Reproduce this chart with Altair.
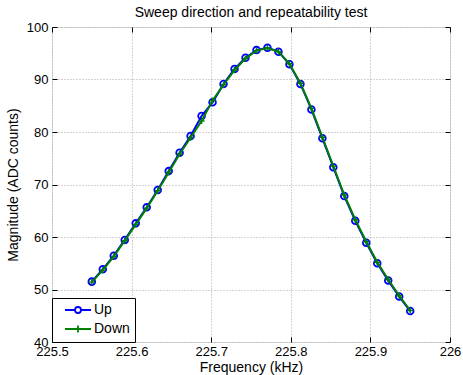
import altair as alt
import pandas as pd

# ---- data ----
freq = [225.5500, 225.5638, 225.5776, 225.5914, 225.6052, 225.6190, 225.6328,
        225.6466, 225.6603, 225.6741, 225.6879, 225.7017, 225.7155, 225.7293,
        225.7431, 225.7569, 225.7707, 225.7845, 225.7983, 225.8121, 225.8259,
        225.8397, 225.8534, 225.8672, 225.8810, 225.8948, 225.9086, 225.9224,
        225.9362, 225.9500]
up = [51.5, 53.85, 56.45, 59.45, 62.6, 65.65, 68.95, 72.55, 76.05, 79.25,
      83.05, 85.65, 89.15, 92.0, 94.15, 95.6, 96.05, 95.3, 92.9, 89.15,
      84.3, 78.8, 73.3, 67.8, 63.1, 58.9, 55.0, 51.7, 48.65, 45.9]
down = [51.4, 53.7, 56.3, 59.3, 62.4, 65.5, 68.8, 72.3, 75.8, 78.9,
        82.1, 86.0, 89.0, 91.8, 94.0, 95.5, 96.0, 95.3, 93.0, 89.3,
        84.5, 79.0, 73.5, 68.0, 63.3, 59.1, 55.2, 51.9, 48.8, 46.0]
series_names = ["Up", "Down"]
series_colors = ["#0000ff", "#008000"]
x_ticks = [225.5, 225.6, 225.7, 225.8, 225.9, 226.0]
y_ticks = [40, 50, 60, 70, 80, 90, 100]

FONT = "Liberation Sans"
n = len(freq)
df = pd.DataFrame({
    "freq": freq + freq,
    "mag": up + down,
    "series": ["Up"] * n + ["Down"] * n,
})

xs = alt.Scale(domain=[225.5, 226.0], nice=False, zero=False)
ys = alt.Scale(domain=[40, 100], nice=False, zero=False)

grid_kw = dict(grid=True, gridDash=[1, 2], gridColor="#a8a8a8", gridWidth=1)
lab_kw = dict(labelFont=FONT, labelFontSize=13, labelColor="black",
              titleFont=FONT, titleFontSize=14, titleFontWeight="normal",
              titleColor="black", labelFlush=False, labelOverlap=False)

x_main = alt.Axis(values=x_ticks, format=".1~f", title="Frequency (kHz)",
                  ticks=False, tickSize=0, domain=False, labelPadding=3,
                  titlePadding=2, **grid_kw, **lab_kw)
y_main = alt.Axis(values=y_ticks, title="Magnitude (ADC counts)",
                  ticks=False, tickSize=0, domain=False, labelPadding=4,
                  titlePadding=6, **grid_kw, **lab_kw)
tick_kw = dict(labels=False, domain=False, grid=False, title=None,
               tickSize=5, offset=-5, tickColor="black", tickWidth=1)
x_bot = alt.Axis(values=x_ticks, orient="bottom", **tick_kw)
x_top = alt.Axis(values=x_ticks, orient="top", **tick_kw)
y_left = alt.Axis(values=y_ticks, orient="left", **tick_kw)
y_right = alt.Axis(values=y_ticks, orient="right", **tick_kw)

base = alt.Chart(df)
up_data = base.transform_filter(alt.datum.series == "Up")
down_data = base.transform_filter(alt.datum.series == "Down")

line_up = up_data.mark_line(color=series_colors[0], strokeWidth=2).encode(
    x=alt.X("freq:Q", scale=xs, axis=x_main),
    y=alt.Y("mag:Q", scale=ys, axis=y_main),
)
pts_up = up_data.mark_point(shape="circle", filled=False, color=series_colors[0],
                            size=45, strokeWidth=1.8, opacity=1).encode(
    x=alt.X("freq:Q", scale=xs, axis=x_bot),
    y=alt.Y("mag:Q", scale=ys, axis=y_left),
)
line_down = down_data.mark_line(color=series_colors[1], strokeWidth=2).encode(
    x=alt.X("freq:Q", scale=xs, axis=x_top),
    y=alt.Y("mag:Q", scale=ys, axis=y_right),
)
pts_down = down_data.mark_point(shape="M-1,0L1,0M0,-1L0,1", filled=False,
                                color=series_colors[1], size=36,
                                strokeWidth=1.4, opacity=1).encode(
    x=alt.X("freq:Q", scale=xs, axis=None),
    y=alt.Y("mag:Q", scale=ys, axis=None),
)

sym_up = ("M0.25,0L2.75,0M4.25,0L6.75,0"
          "M2.75,0A0.75,0.75,0,1,1,4.25,0A0.75,0.75,0,1,1,2.75,0")
sym_down = "M0.25,0L6.75,0M3.5,-0.9L3.5,0.9"
leg = alt.Legend(title=None, orient="bottom-left", offset=0, padding=5,
                 strokeColor="black", fillColor="white", symbolSize=64,
                 symbolStrokeWidth=1.8, symbolFillColor="white",
                 symbolOpacity=1, labelFont=FONT, labelFontSize=14,
                 labelColor="black", labelOffset=23, rowPadding=4)
legend_layer = base.mark_point(opacity=0, filled=False).encode(
    x=alt.X("freq:Q", scale=xs, axis=None),
    y=alt.Y("mag:Q", scale=ys, axis=None),
    color=alt.Color("series:N", scale=alt.Scale(domain=series_names,
                                                range=series_colors), legend=leg),
    shape=alt.Shape("series:N", scale=alt.Scale(domain=series_names,
                                                range=[sym_up, sym_down]), legend=leg),
)

chart = alt.layer(line_up, pts_up, line_down, pts_down, legend_layer).resolve_axis(
    x="independent", y="independent"
).properties(
    width=398, height=315,
    autosize=alt.AutoSizeParams(type="none"),
    padding={"left": 52, "top": 27, "right": 13, "bottom": 33},
    title=alt.TitleParams("Sweep direction and repeatability test", font=FONT,
                          fontSize=14, fontWeight="normal", color="black",
                          offset=1),
).configure_view(stroke="black", strokeWidth=1.2).configure(background="white")

chart.save("out.html", embed_options={"renderer": "svg", "actions": False})
